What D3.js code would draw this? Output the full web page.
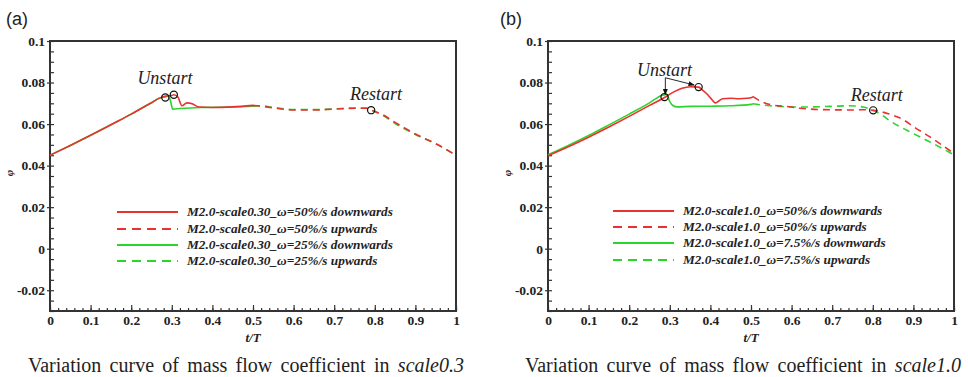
<!DOCTYPE html>
<html>
<head>
  <meta charset="utf-8">
  <script src="https://cdn.jsdelivr.net/npm/d3@7"></script>
  <style type="text/css">
    body { margin: 0; background: #fff; }
    svg { display: block; }
  </style>
</head>
<body>
<script type="text/javascript">

// tick labels
const xTicks = [0, 0.1, 0.2, 0.3, 0.4, 0.5, 0.6, 0.7, 0.8, 0.9, 1];
const yTicks = [-0.02, 0, 0.02, 0.04, 0.06, 0.08, 0.1];

// panel (a) scale0.30, [t/T, phi]
const aRedDown = [[0,0.045],[0.05,0.0497],[0.1,0.0546],[0.15,0.0597],[0.2,0.0648],[0.25,0.0703],[0.27,0.0725],[0.285,0.0735],[0.3,0.0738],[0.305,0.0741],[0.315,0.073],[0.325,0.0688],[0.337,0.0702],[0.35,0.0698],[0.367,0.0682],[0.4,0.068],[0.45,0.0683],[0.5,0.069]];
const aRedUp = [[0.5,0.069],[0.52,0.0686],[0.55,0.0678],[0.6,0.0668],[0.65,0.0668],[0.7,0.0672],[0.75,0.0676],[0.78,0.0676],[0.791,0.0667],[0.82,0.0645],[0.85,0.0608],[0.87,0.0585],[0.9,0.0552],[0.95,0.0506],[1,0.045]];
const aGreenDown = [[0,0.045],[0.05,0.0497],[0.1,0.0546],[0.15,0.0597],[0.2,0.0648],[0.25,0.0703],[0.27,0.0725],[0.284,0.0731],[0.292,0.0735],[0.297,0.071],[0.302,0.0672],[0.32,0.0675],[0.37,0.068],[0.45,0.0682],[0.5,0.0686]];
const aGreenUp = [[0.5,0.0686],[0.52,0.0688],[0.55,0.068],[0.6,0.067],[0.65,0.067],[0.7,0.0673],[0.75,0.0677],[0.78,0.0677],[0.791,0.0667],[0.82,0.0642],[0.85,0.0603],[0.9,0.055],[0.95,0.0505],[1,0.045]];
const aMarks = [[0.284,0.0728],[0.305,0.0741],[0.791,0.0667]];
const aLegend = ["M2.0-scale0.30_\u03c9=50%/s downwards", "M2.0-scale0.30_\u03c9=50%/s upwards",
                 "M2.0-scale0.30_\u03c9=25%/s downwards", "M2.0-scale0.30_\u03c9=25%/s upwards"];

// panel (b) scale1.0
const bRedDown = [[0,0.0448],[0.05,0.0491],[0.1,0.0537],[0.15,0.0586],[0.2,0.0637],[0.25,0.069],[0.287,0.0728],[0.31,0.0755],[0.33,0.0772],[0.35,0.078],[0.371,0.0778],[0.38,0.0765],[0.391,0.0746],[0.405,0.0715],[0.412,0.0702],[0.42,0.071],[0.43,0.0722],[0.45,0.0724],[0.47,0.0722],[0.49,0.0724],[0.5,0.0727],[0.505,0.0732]];
const bRedUp = [[0.505,0.0732],[0.52,0.0714],[0.547,0.0694],[0.6,0.0682],[0.62,0.0676],[0.695,0.0669],[0.75,0.0668],[0.777,0.0669],[0.801,0.0666],[0.838,0.065],[0.875,0.0621],[0.9,0.0588],[0.941,0.0538],[1,0.0458]];
const bGreenDown = [[0,0.0452],[0.05,0.0497],[0.1,0.0545],[0.15,0.0596],[0.2,0.0648],[0.25,0.0702],[0.28,0.0738],[0.29,0.0742],[0.295,0.0735],[0.299,0.0712],[0.305,0.0694],[0.317,0.0683],[0.35,0.0685],[0.4,0.0686],[0.45,0.0688],[0.5,0.0695],[0.505,0.0698]];
const bGreenUp = [[0.505,0.0698],[0.547,0.0688],[0.62,0.0682],[0.695,0.0685],[0.744,0.0688],[0.777,0.0682],[0.801,0.0666],[0.824,0.0642],[0.842,0.0616],[0.884,0.057],[0.941,0.0514],[1,0.0452]];
const bMarks = [[0.287,0.073],[0.371,0.0778],[0.801,0.0666]];
const bLegend = ["M2.0-scale1.0_\u03c9=50%/s downwards", "M2.0-scale1.0_\u03c9=50%/s upwards",
                 "M2.0-scale1.0_\u03c9=7.5%/s downwards", "M2.0-scale1.0_\u03c9=7.5%/s upwards"];

const RED = '#e8322f', GREEN = '#2ed42e';
const SERIF = '"Liberation Serif", "Times New Roman", serif';

const svg = d3.select('body').append('svg').attr('width', 968).attr('height', 377);

svg.append('defs').append('marker').attr('id', 'arr').attr('viewBox', '0 0 10 10')
  .attr('refX', 9).attr('refY', 5).attr('markerWidth', 7).attr('markerHeight', 7)
  .attr('orient', 'auto')
  .append('path').attr('d', 'M0,1 L10,5 L0,9 Z').attr('fill', '#111');

function styleAxis(s) {
  s.select('.domain').remove();
  s.selectAll('.tick line').attr('stroke', '#333').attr('stroke-width', 1.2);
  s.selectAll('.tick text')
    .style('font-family', SERIF).style('font-weight', 'bold').style('font-size', '13.5px')
    .style('fill', '#222');
}

function panel(p) {
  const x = d3.scaleLinear().domain([0, 1]).range([p.left, p.right]);
  const y = d3.scaleLinear().domain([-0.03, 0.1]).range([311, 41]);
  const g = svg.append('g');

  // minor ticks, pointing into the plot
  g.append('g').attr('transform', 'translate(0,311)')
    .call(d3.axisBottom(x).tickValues(d3.range(0, 1.001, 0.02)).tickSize(-3).tickFormat(''))
    .call(styleAxis);
  g.append('g').attr('transform', `translate(${p.left},0)`)
    .call(d3.axisLeft(y).tickValues(d3.range(-0.03, 0.1001, 0.005)).tickSize(-4).tickFormat(''))
    .call(styleAxis);

  // major ticks
  g.append('g').attr('transform', 'translate(0,311)')
    .call(d3.axisBottom(x).tickValues(xTicks).tickSize(-6).tickPadding(4)
      .tickFormat(d => d === 0 ? '0' : d === 1 ? '1' : d.toFixed(1)))
    .call(styleAxis);
  g.append('g').attr('transform', `translate(${p.left},0)`)
    .call(d3.axisLeft(y).tickValues(yTicks).tickSize(3).tickPadding(2)
      .tickFormat(d => Math.abs(d) < 1e-9 ? '0' : String(+d.toFixed(2))))
    .call(styleAxis);

  // frame
  g.append('rect').attr('x', p.left).attr('y', 41)
    .attr('width', p.right - p.left).attr('height', 270)
    .attr('fill', 'none').attr('stroke', '#333').attr('stroke-width', 2);

  const line = d3.line().x(d => x(d[0])).y(d => y(d[1])).curve(d3.curveMonotoneX);
  const series = [
    {d: p.redDown, c: RED, dash: null},
    {d: p.redUp, c: RED, dash: '7,5'},
    {d: p.greenDown, c: GREEN, dash: null},
    {d: p.greenUp, c: GREEN, dash: '7,5'}
  ];
  [series[3], series[2], series[1], series[0]].forEach(s => {
    g.append('path').attr('d', line(s.d)).attr('fill', 'none')
      .attr('stroke', s.c).attr('stroke-width', 1.6)
      .attr('stroke-dasharray', s.dash);
  });

  g.selectAll('circle.mk').data(p.marks).join('circle')
    .attr('cx', d => x(d[0])).attr('cy', d => y(d[1])).attr('r', 3.6)
    .attr('fill', 'none').attr('stroke', '#111').attr('stroke-width', 1.2);

  if (p.arrows) {
    p.arrows.forEach(a => {
      g.append('line').attr('x1', x(a[0][0])).attr('y1', y(a[0][1]))
        .attr('x2', x(a[1][0])).attr('y2', y(a[1][1]))
        .attr('stroke', '#111').attr('stroke-width', 0.9).attr('marker-end', 'url(#arr)');
    });
  }

  p.notes.forEach(n => {
    g.append('text').attr('x', x(n.t)).attr('y', y(n.v) + 6)
      .attr('text-anchor', 'middle').attr('font-family', SERIF).attr('font-style', 'italic')
      .attr('font-size', 18).attr('fill', '#222').text(n.label);
  });

  // legend
  p.legend.forEach((lab, i) => {
    const s = series[i];
    const ly = p.legY[i];
    g.append('line').attr('x1', p.left + p.legX).attr('x2', p.left + p.legX + 61)
      .attr('y1', ly).attr('y2', ly).attr('stroke', s.c).attr('stroke-width', 1.8)
      .attr('stroke-dasharray', s.dash ? '9,6' : null);
    g.append('text').attr('x', p.left + p.legX + 70).attr('y', ly + 4)
      .attr('font-family', SERIF).attr('font-weight', 'bold').attr('font-style', 'italic')
      .attr('font-size', 13.3).attr('fill', '#222').text(lab);
  });

  // axis titles
  g.append('text').attr('x', (p.left + p.right) / 2).attr('y', 342)
    .attr('text-anchor', 'middle').attr('font-family', SERIF).attr('font-weight', 'bold')
    .attr('font-style', 'italic').attr('font-size', 13).attr('fill', '#222').text('t/T');
  g.append('text').attr('transform', `translate(${p.left - 37},173) rotate(-90)`)
    .attr('text-anchor', 'middle').attr('font-family', SERIF).attr('font-weight', 'bold')
    .attr('font-style', 'italic').attr('font-size', 11).attr('fill', '#222').text('\u03c6');

  // panel letter
  g.append('text').attr('x', p.tagX).attr('y', 25)
    .attr('font-family', '"Liberation Sans", Arial, sans-serif').attr('font-size', 18)
    .attr('fill', '#222').text(p.tag);

  // caption
  const cap = g.append('text').attr('x', p.capX).attr('y', 372)
    .attr('font-family', SERIF).attr('font-size', 20).attr('fill', '#222')
    .style('word-spacing', '3.3px');
  cap.append('tspan').text('Variation curve of mass flow coefficient in ');
  cap.append('tspan').attr('font-style', 'italic').text(p.capIt);
}

panel({
  left: 50, right: 456, tag: '(a)', tagX: 6,
  redDown: aRedDown, redUp: aRedUp, greenDown: aGreenDown, greenUp: aGreenUp,
  marks: aMarks, legend: aLegend, legX: 67, legY: [212, 229, 245, 261],
  notes: [{t: 0.283, v: 0.0822, label: 'Unstart'}, {t: 0.803, v: 0.0746, label: 'Restart'}],
  capX: 28, capIt: 'scale0.3'
});

panel({
  left: 548, right: 954, tag: '(b)', tagX: 500,
  redDown: bRedDown, redUp: bRedUp, greenDown: bGreenDown, greenUp: bGreenUp,
  marks: bMarks, legend: bLegend, legX: 65, legY: [211, 227, 243, 260],
  notes: [{t: 0.287, v: 0.0858, label: 'Unstart'}, {t: 0.81, v: 0.0741, label: 'Restart'}],
  arrows: [[[0.289, 0.0823], [0.289, 0.0742]], [[0.289, 0.0823], [0.36, 0.0788]]],
  capX: 525, capIt: 'scale1.0'
});

</script>
</body>
</html>
